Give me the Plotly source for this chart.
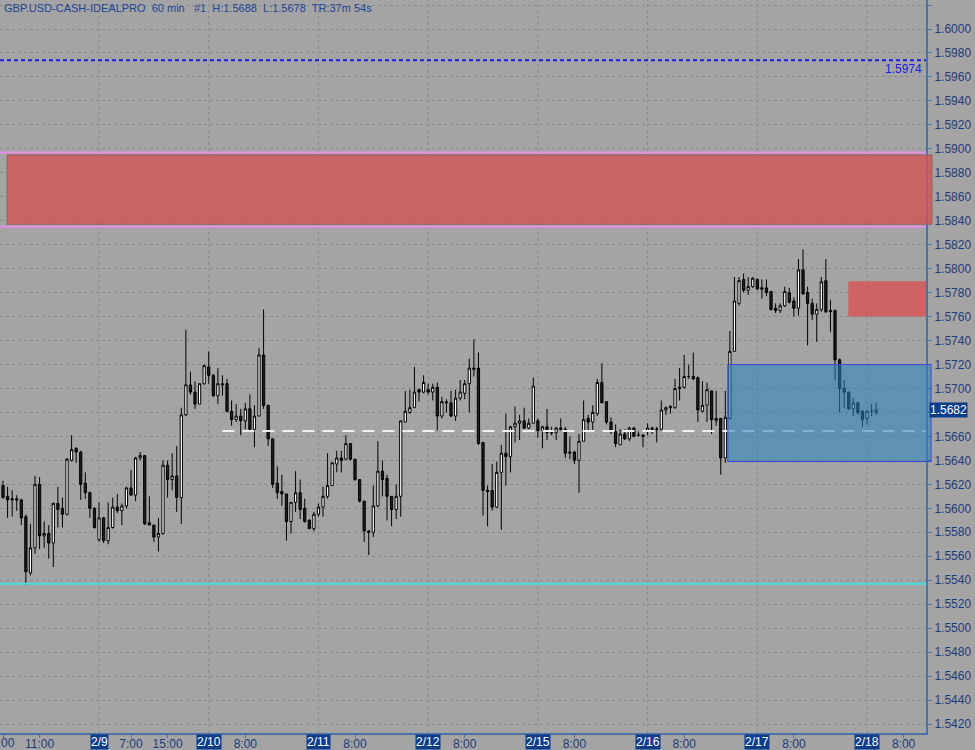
import plotly.graph_objects as go

# hour index (bars), 0 = 2/9 0:00, weekend removed
hour_index = list(range(-21, 171))

opens = [
    1.5619, 1.5610, 1.5608, 1.5608, 1.5607, 1.5593, 1.5546, 1.5567, 1.5620, 1.5577,
    1.5579, 1.5571, 1.5604, 1.5600, 1.5595, 1.5640, 1.5650, 1.5647, 1.5621, 1.5613,
    1.5600, 1.5574, 1.5592, 1.5573, 1.5584, 1.5601, 1.5598, 1.5602, 1.5617, 1.5611,
    1.5642, 1.5644, 1.5588, 1.5586, 1.5576, 1.5579, 1.5636, 1.5624, 1.5627, 1.5609,
    1.5678, 1.5703, 1.5697, 1.5687, 1.5704, 1.5718, 1.5711, 1.5694, 1.5704, 1.5704,
    1.5681, 1.5674, 1.5677, 1.5673, 1.5683, 1.5666, 1.5677, 1.5728, 1.5686, 1.5658,
    1.5621, 1.5614, 1.5612, 1.5589, 1.5605, 1.5613, 1.5600, 1.5590, 1.5583, 1.5595,
    1.5601, 1.5610, 1.5619, 1.5637, 1.5642, 1.5641, 1.5654, 1.5641, 1.5624, 1.5606,
    1.5581, 1.5580, 1.5602, 1.5631, 1.5625, 1.5610, 1.5599, 1.5610, 1.5672, 1.5680,
    1.5684, 1.5699, 1.5697, 1.5699, 1.5697, 1.5701, 1.5677, 1.5689, 1.5688, 1.5677,
    1.5692, 1.5696, 1.5704, 1.5717, 1.5717, 1.5655, 1.5615, 1.5615, 1.5601, 1.5630,
    1.5646, 1.5643, 1.5668, 1.5671, 1.5673, 1.5667, 1.5671, 1.5673, 1.5665, 1.5668,
    1.5663, 1.5663, 1.5667, 1.5666, 1.5646, 1.5647, 1.5640, 1.5656, 1.5675, 1.5672,
    1.5679, 1.5705, 1.5689, 1.5672, 1.5664, 1.5653, 1.5662, 1.5658, 1.5667, 1.5661,
    1.5661, 1.5664, 1.5667, 1.5666, 1.5666, 1.5682, 1.5685, 1.5684, 1.5700, 1.5701,
    1.5710, 1.5710, 1.5709, 1.5681, 1.5686, 1.5698, 1.5673, 1.5675, 1.5642, 1.5675,
    1.5731, 1.5771, 1.5791, 1.5782, 1.5785, 1.5791, 1.5784, 1.5784, 1.5781, 1.5767,
    1.5765, 1.5769, 1.5780, 1.5773, 1.5767, 1.5799, 1.5780, 1.5771, 1.5762, 1.5766,
    1.5790, 1.5765, 1.5765, 1.5724, 1.5700, 1.5697, 1.5683, 1.5688, 1.5681, 1.5675,
    1.5681, 1.5680,
]
highs = [
    1.5623, 1.5618, 1.5615, 1.5611, 1.5608, 1.5595, 1.5587, 1.5627, 1.5626, 1.5589,
    1.5586, 1.5605, 1.5618, 1.5609, 1.5642, 1.5661, 1.5651, 1.5648, 1.5630, 1.5614,
    1.5601, 1.5605, 1.5593, 1.5605, 1.5609, 1.5612, 1.5604, 1.5618, 1.5632, 1.5643,
    1.5647, 1.5644, 1.5610, 1.5586, 1.5592, 1.5640, 1.5640, 1.5646, 1.5652, 1.5684,
    1.5749, 1.5714, 1.5706, 1.5704, 1.5720, 1.5731, 1.5712, 1.5717, 1.5711, 1.5708,
    1.5690, 1.5687, 1.5683, 1.5688, 1.5695, 1.5686, 1.5734, 1.5766, 1.5686, 1.5658,
    1.5635, 1.5628, 1.5612, 1.5605, 1.5631, 1.5624, 1.5608, 1.5591, 1.5597, 1.5604,
    1.5618, 1.5646, 1.5638, 1.5648, 1.5648, 1.5661, 1.5654, 1.5641, 1.5624, 1.5606,
    1.5582, 1.5619, 1.5656, 1.5640, 1.5628, 1.5610, 1.5620, 1.5673, 1.5698, 1.5699,
    1.5718, 1.5700, 1.5711, 1.5704, 1.5704, 1.5705, 1.5693, 1.5691, 1.5698, 1.5699,
    1.5707, 1.5707, 1.5725, 1.5741, 1.5730, 1.5655, 1.5619, 1.5637, 1.5639, 1.5653,
    1.5679, 1.5669, 1.5685, 1.5678, 1.5684, 1.5675, 1.5709, 1.5675, 1.5669, 1.5683,
    1.5668, 1.5668, 1.5675, 1.5668, 1.5660, 1.5648, 1.5662, 1.5690, 1.5678, 1.5686,
    1.5708, 1.5721, 1.5689, 1.5676, 1.5670, 1.5666, 1.5666, 1.5668, 1.5668, 1.5664,
    1.5662, 1.5671, 1.5668, 1.5668, 1.5690, 1.5685, 1.5686, 1.5708, 1.5717, 1.5728,
    1.5720, 1.5730, 1.5710, 1.5706, 1.5705, 1.5698, 1.5698, 1.5675, 1.5698, 1.5748,
    1.5793, 1.5793, 1.5796, 1.5793, 1.5793, 1.5792, 1.5791, 1.5791, 1.5781, 1.5771,
    1.5771, 1.5785, 1.5784, 1.5776, 1.5808, 1.5816, 1.5785, 1.5775, 1.5771, 1.5793,
    1.5808, 1.5774, 1.5766, 1.5725, 1.5707, 1.5697, 1.5692, 1.5689, 1.5682, 1.5682,
    1.5687, 1.5688,
]
lows = [
    1.5608, 1.5592, 1.5593, 1.5598, 1.5586, 1.5536, 1.5544, 1.5562, 1.5566, 1.5567,
    1.5558, 1.5551, 1.5584, 1.5584, 1.5594, 1.5639, 1.5638, 1.5607, 1.5608, 1.5592,
    1.5583, 1.5572, 1.5571, 1.5570, 1.5583, 1.5596, 1.5586, 1.5600, 1.5611, 1.5606,
    1.5640, 1.5586, 1.5586, 1.5572, 1.5564, 1.5578, 1.5609, 1.5615, 1.5597, 1.5587,
    1.5677, 1.5695, 1.5683, 1.5687, 1.5703, 1.5704, 1.5693, 1.5687, 1.5694, 1.5680,
    1.5669, 1.5672, 1.5661, 1.5666, 1.5665, 1.5651, 1.5677, 1.5683, 1.5652, 1.5617,
    1.5608, 1.5602, 1.5573, 1.5579, 1.5597, 1.5591, 1.5588, 1.5583, 1.5581, 1.5593,
    1.5593, 1.5608, 1.5619, 1.5630, 1.5630, 1.5640, 1.5640, 1.5623, 1.5605, 1.5572,
    1.5561, 1.5576, 1.5601, 1.5610, 1.5590, 1.5585, 1.5591, 1.5593, 1.5672, 1.5679,
    1.5684, 1.5689, 1.5696, 1.5695, 1.5690, 1.5665, 1.5675, 1.5680, 1.5676, 1.5673,
    1.5690, 1.5691, 1.5680, 1.5710, 1.5653, 1.5594, 1.5585, 1.5598, 1.5600, 1.5582,
    1.5619, 1.5630, 1.5655, 1.5657, 1.5666, 1.5666, 1.5671, 1.5659, 1.5650, 1.5657,
    1.5661, 1.5657, 1.5665, 1.5642, 1.5641, 1.5637, 1.5613, 1.5656, 1.5665, 1.5664,
    1.5677, 1.5688, 1.5670, 1.5662, 1.5651, 1.5653, 1.5657, 1.5656, 1.5660, 1.5660,
    1.5651, 1.5661, 1.5662, 1.5655, 1.5665, 1.5678, 1.5679, 1.5683, 1.5690, 1.5700,
    1.5708, 1.5707, 1.5672, 1.5680, 1.5672, 1.5662, 1.5669, 1.5628, 1.5638, 1.5674,
    1.5731, 1.5769, 1.5780, 1.5778, 1.5784, 1.5782, 1.5775, 1.5777, 1.5765, 1.5763,
    1.5763, 1.5768, 1.5771, 1.5760, 1.5761, 1.5778, 1.5736, 1.5757, 1.5739, 1.5764,
    1.5763, 1.5747, 1.5707, 1.5680, 1.5684, 1.5682, 1.5677, 1.5678, 1.5668, 1.5670,
    1.5677, 1.5678,
]
closes = [
    1.5609, 1.5607, 1.5607, 1.5607, 1.5592, 1.5547, 1.5567, 1.5620, 1.5577, 1.5579,
    1.5571, 1.5604, 1.5599, 1.5595, 1.5641, 1.5649, 1.5647, 1.5620, 1.5613, 1.5600,
    1.5584, 1.5592, 1.5573, 1.5584, 1.5601, 1.5598, 1.5602, 1.5617, 1.5611, 1.5642,
    1.5644, 1.5587, 1.5586, 1.5576, 1.5579, 1.5636, 1.5624, 1.5627, 1.5609, 1.5678,
    1.5703, 1.5697, 1.5687, 1.5704, 1.5719, 1.5711, 1.5694, 1.5704, 1.5703, 1.5681,
    1.5674, 1.5677, 1.5673, 1.5683, 1.5666, 1.5677, 1.5728, 1.5686, 1.5658, 1.5620,
    1.5613, 1.5612, 1.5589, 1.5605, 1.5613, 1.5599, 1.5589, 1.5583, 1.5595, 1.5601,
    1.5610, 1.5619, 1.5638, 1.5642, 1.5640, 1.5654, 1.5641, 1.5624, 1.5606, 1.5581,
    1.5580, 1.5602, 1.5631, 1.5624, 1.5610, 1.5599, 1.5610, 1.5673, 1.5681, 1.5684,
    1.5697, 1.5697, 1.5705, 1.5697, 1.5701, 1.5677, 1.5689, 1.5688, 1.5677, 1.5692,
    1.5697, 1.5704, 1.5717, 1.5716, 1.5654, 1.5615, 1.5614, 1.5601, 1.5630, 1.5646,
    1.5643, 1.5668, 1.5671, 1.5673, 1.5667, 1.5671, 1.5702, 1.5665, 1.5668, 1.5663,
    1.5663, 1.5667, 1.5666, 1.5646, 1.5647, 1.5640, 1.5656, 1.5674, 1.5672, 1.5680,
    1.5705, 1.5688, 1.5672, 1.5664, 1.5654, 1.5662, 1.5658, 1.5667, 1.5660, 1.5661,
    1.5660, 1.5667, 1.5666, 1.5666, 1.5682, 1.5684, 1.5684, 1.5700, 1.5701, 1.5710,
    1.5710, 1.5708, 1.5682, 1.5686, 1.5699, 1.5674, 1.5675, 1.5642, 1.5676, 1.5731,
    1.5773, 1.5790, 1.5782, 1.5785, 1.5792, 1.5783, 1.5783, 1.5780, 1.5766, 1.5765,
    1.5769, 1.5781, 1.5772, 1.5767, 1.5799, 1.5779, 1.5771, 1.5762, 1.5766, 1.5789,
    1.5764, 1.5764, 1.5724, 1.5700, 1.5697, 1.5683, 1.5688, 1.5680, 1.5674, 1.5681,
    1.5681, 1.5682,
]

# x-axis labels
time_tick_pos = [-21, -13, 7, 15, 32, 56, 80, 104, 128, 152, 176]
time_tick_text = ["3:00", "11:00", "7:00", "15:00", "8:00", "8:00", "8:00", "8:00", "8:00", "8:00", "8:00"]
day_tick_pos = [0, 24, 48, 72, 96, 120, 144, 168]
day_tick_text = ["2/9", "2/10", "2/11", "2/12", "2/15", "2/16", "2/17", "2/18"]

# y-axis labels (1.5680 is covered by the last-price marker)
y_ticks = [1.5420, 1.5440, 1.5460, 1.5480, 1.5500, 1.5520, 1.5540, 1.5560, 1.5580, 1.5600,
           1.5620, 1.5640, 1.5660, 1.5680, 1.5700, 1.5720, 1.5740, 1.5760, 1.5780, 1.5800,
           1.5820, 1.5840, 1.5860, 1.5880, 1.5900, 1.5920, 1.5940, 1.5960, 1.5980, 1.6000, 1.6020]

# levels / zones
last_price = 1.5682
alert_level = 1.5974
support_level = 1.5537
mid_level = 1.56645
mid_level_start = 27
supply_zone = (1.5837, 1.5895)
supply_lines = (1.5835, 1.5897)
small_supply_zone = (1.5760, 1.57895)
small_supply_start = 163.9
demand_zone = (1.5639, 1.5720)

y_tick_text = ["" if abs(v - last_price) < 0.0005 else "%.4f" % v for v in y_ticks]

BG = "#a4a4a4"
NAVY = "#1c3c7c"
AXIS = "#4a72a8"
FONT = "Liberation Sans, Arial, sans-serif"

fig = go.Figure()
fig.add_trace(go.Candlestick(
    x=hour_index, open=opens, high=highs, low=lows, close=closes,
    increasing=dict(fillcolor="#ffffff", line=dict(color="#000000", width=1)),
    decreasing=dict(fillcolor="#1e1e1e", line=dict(color="#000000", width=1)),
    whiskerwidth=0, showlegend=False, hoverinfo="skip",
))

x_range = [-21.66, 180.9]
y_range = [1.54125, 1.60242]

shapes = []
for d in day_tick_pos:
    shapes.append(dict(type="line", xref="x", yref="paper", x0=d, x1=d, y0=0, y1=1,
                       line=dict(color="#8a8a8a", width=1, dash="3px,3px"), layer="below"))
for lv in supply_lines:
    shapes.append(dict(type="line", xref="paper", yref="y", x0=0, x1=1, y0=lv, y1=lv,
                       line=dict(color="#e88ee8", width=2), layer="above"))
shapes.append(dict(type="rect", xref="paper", yref="y", x0=0.0076, x1=1.0065,
                   y0=supply_zone[0], y1=supply_zone[1],
                   fillcolor="rgba(210,84,84,0.82)", line=dict(color="#8c6a6a", width=1), layer="above"))
shapes.append(dict(type="rect", xref="x", yref="y", x0=small_supply_start, x1=x_range[1],
                   y0=small_supply_zone[0], y1=small_supply_zone[1],
                   fillcolor="rgba(215,84,84,0.82)", line=dict(width=0), layer="above"))
shapes.append(dict(type="line", xref="paper", yref="y", x0=0, x1=1, y0=alert_level, y1=alert_level,
                   line=dict(color="#1a1ae6", width=2, dash="4px,3px"), layer="above"))
shapes.append(dict(type="line", xref="paper", yref="y", x0=0, x1=1, y0=support_level, y1=support_level,
                   line=dict(color="#44e0e0", width=2), layer="above"))
shapes.append(dict(type="line", xref="x", yref="y", x0=mid_level_start, x1=x_range[1],
                   y0=mid_level, y1=mid_level,
                   line=dict(color="#f0f0f0", width=2, dash="12px,8px"), layer="above"))
shapes.append(dict(type="rect", xref="paper", yref="y", x0=0.786, x1=1.0054,
                   y0=demand_zone[0], y1=demand_zone[1],
                   fillcolor="rgba(40,130,190,0.55)", line=dict(color="#3c44d8", width=1), layer="above"))

annotations = [
    dict(xref="paper", yref="paper", x=0.002, y=0.9995, xanchor="left", yanchor="top",
         text="GBP.USD-CASH-IDEALPRO  60 min   #1  H:1.5688  L:1.5678  TR:37m 54s",
         showarrow=False, font=dict(family=FONT, size=11, color="#1f4596")),
    dict(xref="paper", yref="y", x=0.998, y=alert_level, xanchor="right", yanchor="top",
         text="1.5974", showarrow=False, yshift=0, font=dict(family=FONT, size=12, color="#1a1ae6")),
    dict(xref="paper", yref="y", x=1.0, y=last_price, xanchor="left", yanchor="middle",
         text="1.5682", showarrow=False, xshift=3, bgcolor="#0c3c8c", borderpad=0,
         font=dict(family=FONT, size=12, color="#ffffff")),
    dict(xref="x", yref="paper", x=time_tick_pos[0], y=0, xanchor="center", yanchor="top",
         yshift=-1, text=time_tick_text[0], showarrow=False,
         font=dict(family=FONT, size=12, color=NAVY)),
]
for pos, txt in zip(day_tick_pos, day_tick_text):
    annotations.append(dict(xref="x", yref="paper", x=pos, y=0, xanchor="center", yanchor="top",
                            yshift=-1, text=txt, showarrow=False, bgcolor="#0c3c8c", borderpad=0,
                            font=dict(family=FONT, size=12, color="#ffffff")))
    

# regular tick labels (first one is drawn as an annotation since it is clipped at the edge)
x_tickvals = time_tick_pos[1:] + day_tick_pos + [time_tick_pos[0]]
x_ticktext = time_tick_text[1:] + [""] * len(day_tick_pos) + [""]

fig.update_layout(
    width=975, height=750,
    margin=dict(l=0, r=49, t=0, b=17, autoexpand=False),
    paper_bgcolor=BG, plot_bgcolor=BG,
    shapes=shapes, annotations=annotations,
    showlegend=False,
    xaxis=dict(range=x_range, rangeslider=dict(visible=False), showgrid=False, zeroline=False,
               tickmode="array", tickvals=x_tickvals, ticktext=x_ticktext,
               ticks="outside", ticklen=3, tickcolor=AXIS, ticklabelstandoff=-4,
               tickfont=dict(family=FONT, size=12, color=NAVY),
               showline=True, linecolor=AXIS, linewidth=2, mirror=False, automargin=False),
    yaxis=dict(range=y_range, side="right", tickmode="array", tickvals=y_ticks, ticktext=y_tick_text,
               showgrid=True, gridcolor="#8a8a8a", griddash="3px,3px", gridwidth=1, zeroline=False,
               ticks="outside", ticklen=4, tickcolor=AXIS,
               tickfont=dict(family=FONT, size=12, color=NAVY),
               showline=True, linecolor=AXIS, linewidth=2, automargin=False),
)

fig.write_html("out.html", config={"displayModeBar": False},
               post_script="document.body.style.margin='0px';document.body.style.background='%s';" % BG)
